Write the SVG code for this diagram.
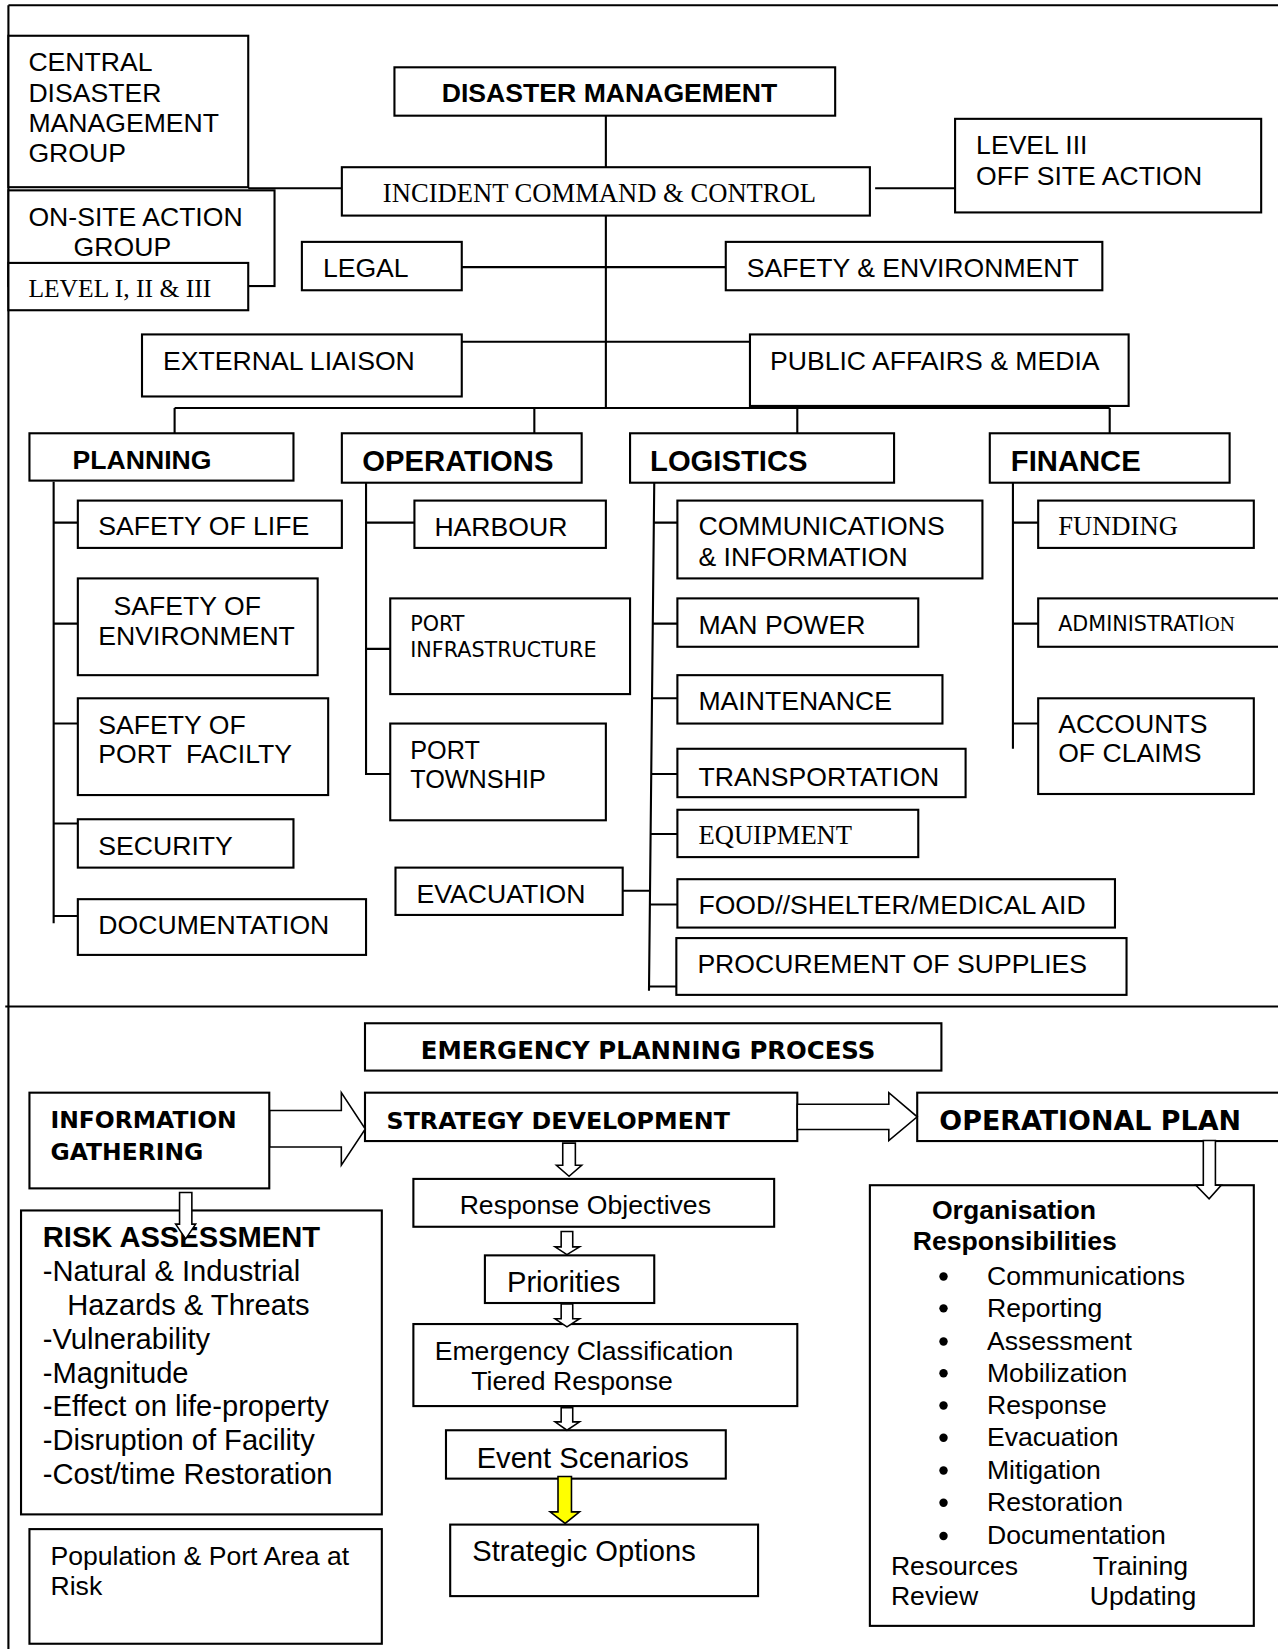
<svg xmlns="http://www.w3.org/2000/svg" width="1278" height="1649" viewBox="0 0 1278 1649">
<style>
.bx{fill:#fff;stroke:#000;stroke-width:2}
.ln{fill:none;stroke:#000;stroke-width:2}
.ar{fill:#fff;stroke:#000;stroke-width:1.5;stroke-linejoin:miter}
.ay{fill:#ff0;stroke:#000;stroke-width:1.5}
text{fill:#000}
.a{font-family:"Liberation Sans",Arial,sans-serif;font-size:25.3px}
.t{font-family:"Liberation Serif","Times New Roman",serif;font-size:25.3px}
.v{font-family:"DejaVu Sans",Verdana,sans-serif;font-size:19.7px}
.b{font-weight:bold}
.h{font-family:"Liberation Sans",Arial,sans-serif;font-weight:bold;font-size:27.8px}
.vb{font-family:"DejaVu Sans",Verdana,sans-serif;font-weight:bold}
.r{font-family:"Liberation Sans",Arial,sans-serif;font-size:27.7px}
</style>
<rect width="1278" height="1649" fill="#fff"/>
<g transform="scale(1.05185,1.05166)">
<g id="frame" class="ln">
<path d="M8,5 H1215 M8,5 V1568 M5,957 H1215"/>
</g>
<g id="connectors" class="ln">
<path d="M576,110 V159 M236,179 H325 M832,179 H908 M576,205 V388 M439,254 H690 M439,325 H713"/>
<path d="M166,388 H1055 M166,388 V412 M508,388 V412 M758,388 V412 M1055,388 V412"/>
<path d="M51,458 V878 M51,497 H74 M51,593 H74 M51,688 H74 M51,783 H74 M51,871 H74"/>
<path d="M348,459 V736 H371 M348,497 H394 M348,617 H371"/>
<path d="M622,459 L617,942 M621,497 H644 M620,593 H644 M620,664 H644 M619,736 H644 M619,793 H644 M618,860 H644 M617,938 H643 M592,847 H617"/>
<path d="M963,459 V712 M963,497 H987 M963,593 H987 M963,688 H987"/>
</g>
<g id="cdmg"><rect class="bx" x="8" y="34" width="228" height="144"/>
<text class="a" x="27" y="67.5">CENTRAL</text><text class="a" x="27" y="96.7">DISASTER</text><text class="a" x="27" y="125.8">MANAGEMENT</text><text class="a" x="27" y="154.3">GROUP</text></g>
<g id="onsite"><rect class="bx" x="8" y="181" width="253" height="91"/>
<text class="a" x="27" y="215">ON-SITE ACTION</text><text class="a" x="70" y="243">GROUP</text></g>
<g id="levels"><rect class="bx" x="8" y="250" width="228" height="45"/>
<text class="t" x="27" y="282" style="font-size:24.3px">LEVEL I, II &amp; III</text></g>
<g id="dm"><rect class="bx" x="375" y="64" width="419" height="46"/>
<text class="a b" x="420" y="97">DISASTER MANAGEMENT</text></g>
<g id="icc"><rect class="bx" x="325" y="159" width="502" height="46"/>
<text class="t" x="364" y="192">INCIDENT COMMAND &amp; CONTROL</text></g>
<g id="level3"><rect class="bx" x="908" y="113" width="291" height="89"/>
<text class="a" x="928" y="146.5">LEVEL III</text><text class="a" x="928" y="175.5">OFF SITE ACTION</text></g>
<g id="legal"><rect class="bx" x="287" y="230" width="152" height="46"/>
<text class="a" x="307" y="263">LEGAL</text></g>
<g id="safetyenv"><rect class="bx" x="690" y="230" width="358" height="46"/>
<text class="a" x="710" y="263">SAFETY &amp; ENVIRONMENT</text></g>
<g id="extliaison"><rect class="bx" x="135" y="318" width="304" height="59"/>
<text class="a" x="155" y="352">EXTERNAL LIAISON</text></g>
<g id="public"><rect class="bx" x="713" y="318" width="360" height="68"/>
<text class="a" x="732" y="352">PUBLIC AFFAIRS &amp; MEDIA</text></g>
<g id="planning"><rect class="bx" x="28" y="412" width="251" height="45"/>
<text class="a b" x="69" y="446">PLANNING</text></g>
<g id="operations"><rect class="bx" x="325" y="412" width="228" height="47"/>
<text class="h" x="344.5" y="448">OPERATIONS</text></g>
<g id="logistics"><rect class="bx" x="599" y="412" width="251" height="47"/>
<text class="h" x="618" y="448">LOGISTICS</text></g>
<g id="finance"><rect class="bx" x="941" y="412" width="228" height="47"/>
<text class="h" x="961" y="448">FINANCE</text></g>
<g id="safetylife"><rect class="bx" x="74" y="476" width="251" height="45"/>
<text class="a" x="93.5" y="508.6">SAFETY OF LIFE</text></g>
<g id="safetyenvironment"><rect class="bx" x="74" y="550" width="228" height="92"/>
<text class="a" x="108" y="585">SAFETY OF</text><text class="a" x="93.5" y="613">ENVIRONMENT</text></g>
<g id="safetyport"><rect class="bx" x="74" y="664" width="238" height="92"/>
<text class="a" x="93.5" y="698" xml:space="preserve">SAFETY OF</text><text class="a" x="93.5" y="726" xml:space="preserve">PORT  FACILTY</text></g>
<g id="security"><rect class="bx" x="74" y="779" width="205" height="46"/>
<text class="a" x="93.5" y="813">SECURITY</text></g>
<g id="documentation"><rect class="bx" x="74" y="855" width="274" height="53"/>
<text class="a" x="93.5" y="888">DOCUMENTATION</text></g>
<g id="harbour"><rect class="bx" x="394" y="476" width="182" height="45"/>
<text class="a" x="413" y="510">HARBOUR</text></g>
<g id="portinfra"><rect class="bx" x="371" y="569" width="228" height="91"/>
<text class="v" x="390" y="600">PORT</text><text class="v" x="390" y="625">INFRASTRUCTURE</text></g>
<g id="porttownship"><rect class="bx" x="371" y="688" width="205" height="92"/>
<text class="a" x="390" y="722" style="font-size:24px">PORT</text><text class="a" x="390" y="749" style="font-size:24px">TOWNSHIP</text></g>
<g id="evacuation"><rect class="bx" x="376" y="825" width="216" height="45"/>
<text class="a" x="396" y="859">EVACUATION</text></g>
<g id="comms"><rect class="bx" x="644" y="476" width="290" height="74"/>
<text class="a" x="664" y="509">COMMUNICATIONS</text><text class="a" x="664" y="538">&amp; INFORMATION</text></g>
<g id="manpower"><rect class="bx" x="644" y="569" width="229" height="46"/>
<text class="a" x="664" y="603">MAN POWER</text></g>
<g id="maintenance"><rect class="bx" x="644" y="642" width="252" height="46"/>
<text class="a" x="664" y="675">MAINTENANCE</text></g>
<g id="transportation"><rect class="bx" x="644" y="712" width="274" height="46"/>
<text class="a" x="664" y="747">TRANSPORTATION</text></g>
<g id="equipment"><rect class="bx" x="644" y="770" width="229" height="45"/>
<text class="t" x="664" y="803">EQUIPMENT</text></g>
<g id="food"><rect class="bx" x="644" y="836" width="416" height="46"/>
<text class="a" x="664" y="869">FOOD//SHELTER/MEDICAL AID</text></g>
<g id="procurement"><rect class="bx" x="643" y="892" width="428" height="54"/>
<text class="a" x="663" y="925.6">PROCUREMENT OF SUPPLIES</text></g>
<g id="funding"><rect class="bx" x="987" y="476" width="205" height="45"/>
<text class="t" x="1006" y="508.6">FUNDING</text></g>
<g id="administration"><rect class="bx" x="987" y="569" width="230" height="46"/>
<text x="1006" y="600"><tspan class="v">ADMINISTRATI</tspan><tspan class="t" style="font-size:20px">ON</tspan></text></g>
<g id="accounts"><rect class="bx" x="987" y="664" width="205" height="91"/>
<text class="a" x="1006" y="697">ACCOUNTS</text><text class="a" x="1006" y="725">OF CLAIMS</text></g>
<g id="epp"><rect class="bx" x="347" y="973" width="548" height="45"/>
<text class="vb" x="400" y="1007" style="font-size:23.2px">EMERGENCY PLANNING PROCESS</text></g>
<g id="infogathering"><rect class="bx" x="28" y="1039" width="228" height="91"/>
<text class="vb" x="48" y="1073" style="font-size:22.3px">INFORMATION</text><text class="vb" x="48" y="1103" style="font-size:22.3px">GATHERING</text></g>
<g id="strategy"><rect class="bx" x="347" y="1039" width="411" height="46"/>
<text class="vb" x="367.5" y="1073.5" style="font-size:22.6px">STRATEGY DEVELOPMENT</text></g>
<g id="opplan"><rect class="bx" x="872" y="1039" width="345" height="46"/>
<text class="vb" x="893" y="1074.5" style="font-size:25.6px">OPERATIONAL PLAN</text></g>
<g id="risk"><rect class="bx" x="20" y="1151" width="343" height="289"/>
<text class="r b" x="40.7" y="1186">RISK ASSESSMENT</text>
<text class="r" x="40.7" y="1218.5">-Natural &amp; Industrial</text>
<text class="r" x="64" y="1250.7">Hazards &amp; Threats</text>
<text class="r" x="40.7" y="1282.6">-Vulnerability</text>
<text class="r" x="40.7" y="1314.8">-Magnitude</text>
<text class="r" x="40.7" y="1346.6">-Effect on life-property</text>
<text class="r" x="40.7" y="1378.9">-Disruption of Facility</text>
<text class="r" x="40.7" y="1411.3">-Cost/time Restoration</text></g>
<g id="population"><rect class="bx" x="28" y="1454" width="335" height="109"/>
<text class="a" x="48" y="1488">Population &amp; Port Area at</text><text class="a" x="48" y="1516.4">Risk</text></g>
<g id="responseobj"><rect class="bx" x="393" y="1121" width="343" height="45.5"/>
<text class="a" x="437" y="1154.6">Response Objectives</text></g>
<g id="priorities"><rect class="bx" x="461" y="1193.7" width="161" height="45.3"/>
<text class="r" x="482" y="1229">Priorities</text></g>
<g id="emclass"><rect class="bx" x="393" y="1259" width="365" height="78"/>
<text class="a" x="413.3" y="1293.2">Emergency Classification</text><text class="a" x="448" y="1321.7">Tiered Response</text></g>
<g id="event"><rect class="bx" x="424" y="1360" width="266" height="46"/>
<text class="r" x="453.2" y="1395.5">Event Scenarios</text></g>
<g id="strategic"><rect class="bx" x="428" y="1449.7" width="292.7" height="68"/>
<text class="r" x="449" y="1484.8">Strategic Options</text></g>
<g id="orgresp"><rect class="bx" x="827" y="1127" width="365" height="419"/>
<text class="a b" x="886" y="1159.5">Organisation</text><text class="a b" x="867.8" y="1189">Responsibilities</text>
<g fill="#000"><circle cx="897" cy="1213.8" r="4"/><circle cx="897" cy="1244.1" r="4"/><circle cx="897" cy="1275.6" r="4"/><circle cx="897" cy="1305.8" r="4"/><circle cx="897" cy="1336.5" r="4"/><circle cx="897" cy="1367.2" r="4"/><circle cx="897" cy="1398.3" r="4"/><circle cx="897" cy="1429" r="4"/><circle cx="897" cy="1460.5" r="4"/></g>
<text class="a" x="938.3" y="1221.6">Communications</text>
<text class="a" x="938.3" y="1252">Reporting</text>
<text class="a" x="938.3" y="1283.5">Assessment</text>
<text class="a" x="938.3" y="1313.7">Mobilization</text>
<text class="a" x="938.3" y="1344.4">Response</text>
<text class="a" x="938.3" y="1375.1">Evacuation</text>
<text class="a" x="938.3" y="1406.2">Mitigation</text>
<text class="a" x="938.3" y="1436.9">Restoration</text>
<text class="a" x="938.3" y="1468.4">Documentation</text>
<text class="a" x="847" y="1497.9">Resources</text><text class="a" x="1039" y="1497.9">Training</text>
<text class="a" x="847" y="1526.6">Review</text><text class="a" x="1036" y="1526.6">Updating</text></g>
<g id="arrows">
<polygon class="ar" points="256.5,1056 324.5,1056 324.5,1039 347.3,1073.5 324.5,1108 324.5,1090.6 256.5,1090.6"/>
<polygon class="ar" points="758,1050 845,1050 845,1039 872,1062 845,1084.5 845,1074 758,1074"/>
<polygon class="ar" points="535,1087 547,1087 547,1108 553,1108 541,1118.5 529,1108 535,1108"/>
<polygon class="ar" points="533.5,1171 544.5,1171 544.5,1185.6 551,1185.6 539,1193 527.7,1185.6 533.5,1185.6"/>
<polygon class="ar" points="533.5,1240 544.5,1240 544.5,1254 551,1254 539,1261.7 527.7,1254 533.5,1254"/>
<polygon class="ar" points="533.5,1338.5 544.5,1338.5 544.5,1352 551,1352 539,1360 527.7,1352 533.5,1352"/>
<polygon class="ay" points="530.5,1404 543.3,1404 543.3,1437.6 551,1437.6 537.3,1448.6 523,1437.6 530.5,1437.6"/>
<polygon class="ar" points="1144,1084.5 1155.5,1084.5 1155.5,1127 1161,1127 1149.5,1140 1137,1127 1144,1127"/>
<polygon class="ar" points="170.7,1134 182.4,1134 182.4,1164 186,1164 176.5,1178 167,1164 170.7,1164"/>
</g>
</g>
</svg>
